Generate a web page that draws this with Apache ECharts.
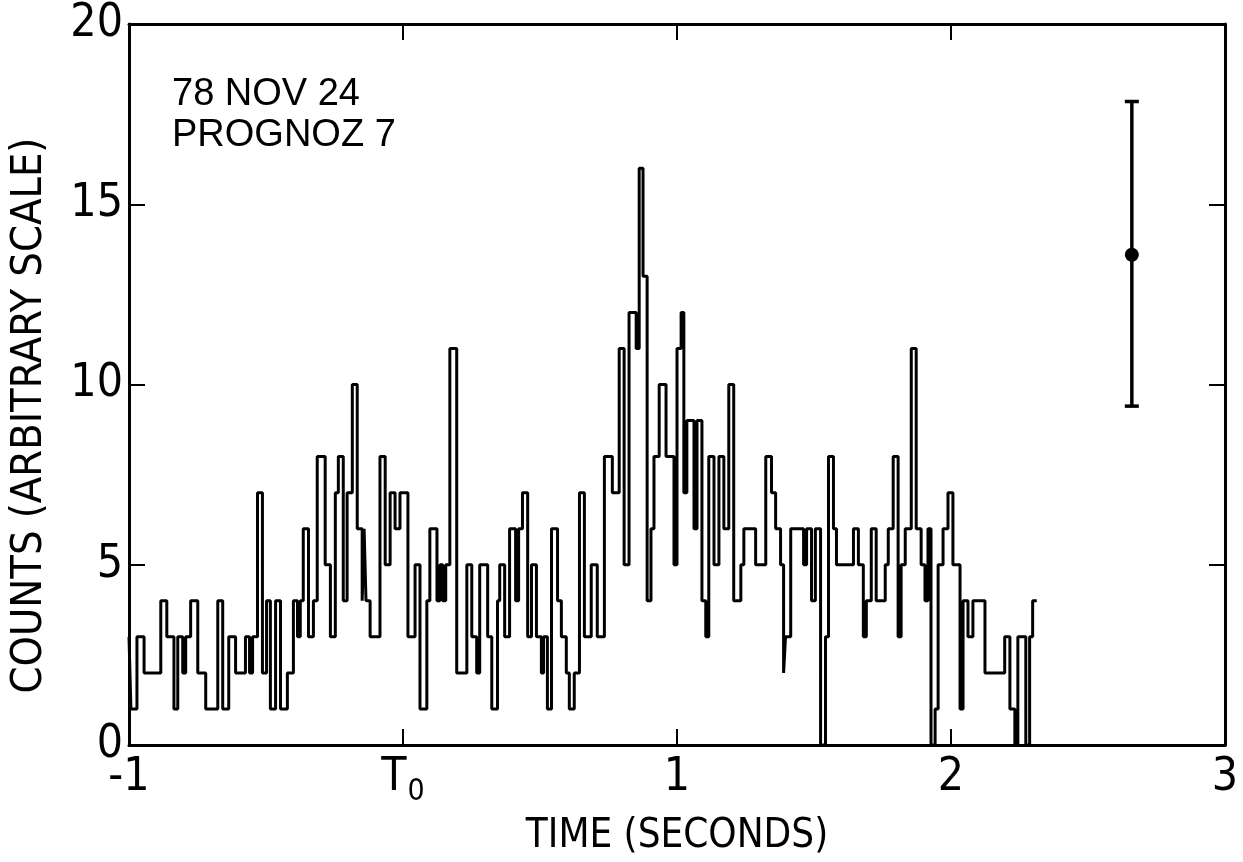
<!DOCTYPE html>
<html>
<head>
<meta charset="utf-8">
<script src="https://cdn.jsdelivr.net/npm/echarts@6.0.0/dist/echarts.min.js"></script>
<style>
  html, body { margin: 0; padding: 0; background: #fff; }
  #chart { width: 1243px; height: 862px; }
</style>
</head>
<body>
<div id="chart"></div>
<script>
// step histogram: each time is the start of a level
const stepTimes = [
  -1.000, -0.993, -0.971, -0.945, -0.884, -0.862, -0.836, -0.822, -0.804, -0.793,
  -0.775, -0.749, -0.720, -0.676, -0.658, -0.636, -0.611, -0.575, -0.560, -0.549,
  -0.531, -0.513, -0.498, -0.484, -0.465, -0.447, -0.422, -0.400, -0.385, -0.375,
  -0.364, -0.345, -0.327, -0.313, -0.284, -0.265, -0.247, -0.236, -0.218, -0.204,
  -0.185, -0.167, -0.149, -0.142, -0.135, -0.120, -0.084, -0.065, -0.047, -0.029,
  -0.011, 0.018, 0.044, 0.062, 0.087, 0.098, 0.124, 0.135, 0.145, 0.156,
  0.171, 0.196, 0.233, 0.251, 0.269, 0.280, 0.309, 0.324, 0.345, 0.353,
  0.371, 0.389, 0.411, 0.422, 0.436, 0.455, 0.469, 0.487, 0.505, 0.513,
  0.527, 0.542, 0.564, 0.578, 0.596, 0.607, 0.625, 0.644, 0.662, 0.687,
  0.709, 0.735, 0.764, 0.789, 0.807, 0.825, 0.851, 0.862, 0.876, 0.891,
  0.905, 0.916, 0.935, 0.960, 0.989, 1.000, 1.015, 1.025, 1.036, 1.062,
  1.073, 1.091, 1.105, 1.116, 1.135, 1.153, 1.171, 1.189, 1.207, 1.233,
  1.244, 1.287, 1.324, 1.345, 1.360, 1.378, 1.389, 1.396, 1.415, 1.462,
  1.473, 1.491, 1.505, 1.524, 1.542, 1.553, 1.571, 1.582, 1.644, 1.662,
  1.680, 1.691, 1.709, 1.727, 1.760, 1.771, 1.789, 1.807, 1.818, 1.833,
  1.855, 1.873, 1.891, 1.905, 1.916, 1.927, 1.942, 1.953, 1.971, 1.989,
  2.007, 2.033, 2.044, 2.062, 2.080, 2.124, 2.196, 2.215, 2.233, 2.244,
  2.273, 2.287, 2.298
];
const stepCounts = [
  3, 1, 3, 2, 4, 3, 1, 3, 2, 3,
  4, 2, 1, 4, 1, 3, 2, 3, 2, 3,
  7, 2, 4, 1, 4, 1, 2, 4, 3, 4,
  6, 3, 4, 8, 5, 3, 7, 8, 4, 7,
  10, 6, 4, 6, 4, 3, 8, 5, 7, 6,
  7, 3, 5, 1, 4, 6, 4, 5, 4, 5,
  11, 2, 5, 3, 2, 5, 3, 1, 4, 5,
  3, 6, 4, 6, 7, 3, 5, 3, 2, 3,
  1, 6, 4, 3, 2, 1, 2, 7, 3, 5,
  3, 8, 7, 11, 5, 12, 11, 16, 13, 4,
  6, 8, 10, 8, 5, 11, 12, 7, 9, 6,
  9, 4, 3, 8, 5, 8, 6, 10, 4, 5,
  6, 5, 8, 7, 6, 5, 2, 3, 6, 5,
  6, 4, 6, 0, 3, 8, 6, 5, 6, 5,
  3, 4, 6, 4, 5, 6, 8, 3, 5, 6,
  11, 6, 5, 4, 6, 0, 1, 5, 6, 7,
  5, 1, 4, 3, 4, 2, 3, 1, 0, 3,
  0, 3, 4
];
const endTime = 2.313;

// error bar drawn at the right
const errTime = 2.66;
const errMean = 13.6;
const errLow = 9.4;
const errHigh = 17.85;

const xTickLabels = { '-1': '-1', '0': '{t|T}{s|0}', '1': '1', '2': '2', '3': '3' };
const notes = ['78 NOV 24', 'PROGNOZ 7'];

const lineData = stepTimes.map((t, i) => [t, stepCounts[i]]);
lineData.push([endTime, stepCounts[stepCounts.length - 1]]);

const chart = echarts.init(document.getElementById('chart'));
const narrow = '"Liberation Sans Narrow", "DejaVu Sans Condensed", sans-serif';
const ink = '#000';

function boxAxis(extra) {
    return Object.assign({
        axisLine: { show: true, onZero: false, lineStyle: { color: ink, width: 3 } },
        axisTick: { show: true, inside: true, length: 16, lineStyle: { color: ink, width: 2 } },
        splitLine: { show: false },
        axisLabel: { show: false }
    }, extra);
}

const option = {
    backgroundColor: '#fff',
    animation: false,
    grid: { left: 127, right: 18, top: 24, bottom: 106, containLabel: false },
    xAxis: [
        boxAxis({
            type: 'value', min: -1, max: 3, interval: 1, position: 'bottom',
            name: 'TIME (SECONDS)', nameLocation: 'middle', nameGap: 72,
            nameTextStyle: { fontFamily: narrow, fontSize: 40, color: ink },
            axisLabel: {
                show: true, margin: 10, color: ink, fontFamily: narrow, fontSize: 46,
                verticalAlign: 'top',
                formatter: v => xTickLabels[String(v)],
                rich: {
                    t: { fontFamily: narrow, fontSize: 46, lineHeight: 46, verticalAlign: 'top', color: ink },
                    s: { fontFamily: narrow, fontSize: 30, lineHeight: 30, padding: [22, 0, 0, 1], verticalAlign: 'top', color: ink }
                }
            }
        }),
        boxAxis({ type: 'value', min: -1, max: 3, interval: 1, position: 'top' })
    ],
    yAxis: [
        boxAxis({
            type: 'value', min: 0, max: 20, interval: 5, position: 'left',
            name: 'COUNTS (ARBITRARY SCALE)', nameLocation: 'middle', nameGap: 78,
            // right padding pushes the rotated text down the axis
            nameTextStyle: { fontFamily: narrow, fontSize: 43, color: ink, padding: [0, 62, 0, 0] },
            axisLabel: { show: true, margin: 6, color: ink, fontFamily: narrow, fontSize: 46 }
        }),
        boxAxis({ type: 'value', min: 0, max: 20, interval: 5, position: 'right' })
    ],
    graphic: [
        {
            type: 'text', left: 172, top: 74,
            style: { text: notes.join('\n'), font: '38px "Liberation Sans", Arial, sans-serif', lineHeight: 41, fill: ink }
        }
    ],
    series: [
        {
            type: 'line',
            step: 'end',
            data: lineData,
            showSymbol: false,
            lineStyle: { color: ink, width: 3 },
            z: 3
        },
        {
            type: 'custom',
            data: [[errTime, errLow, errHigh]],
            renderItem: (params, api) => {
                const top = api.coord([api.value(0), api.value(2)]);
                const bot = api.coord([api.value(0), api.value(1)]);
                const half = 7;
                const st = { stroke: ink, lineWidth: 3.5 };
                return {
                    type: 'group',
                    children: [
                        { type: 'line', shape: { x1: top[0], y1: top[1], x2: bot[0], y2: bot[1] }, style: st },
                        { type: 'line', shape: { x1: top[0] - half, y1: top[1], x2: top[0] + half, y2: top[1] }, style: st },
                        { type: 'line', shape: { x1: bot[0] - half, y1: bot[1], x2: bot[0] + half, y2: bot[1] }, style: st }
                    ]
                };
            },
            z: 3
        },
        {
            type: 'scatter',
            data: [[errTime, errMean]],
            symbol: 'circle',
            symbolSize: 14,
            itemStyle: { color: ink, opacity: 1 },
            z: 4
        }
    ]
};

chart.setOption(option);
</script>
</body>
</html>
